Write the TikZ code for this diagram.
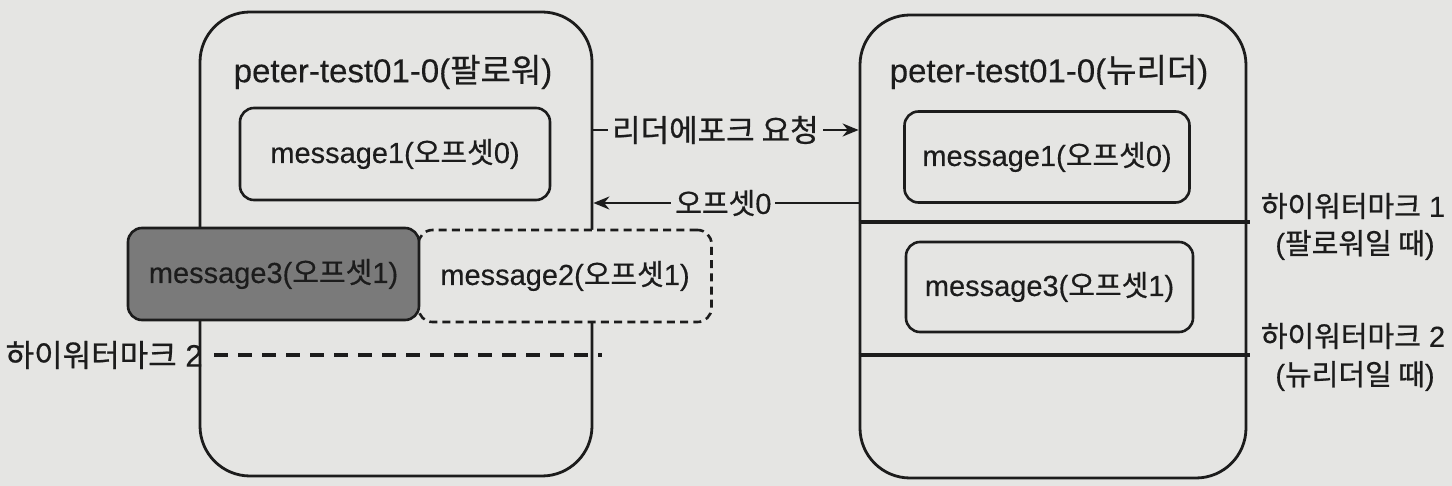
\documentclass[tikz,border=0pt]{standalone}
\usepackage{fontspec}
\setmainfont[FakeBold=0.3]{Liberation Sans}
\newfontfamily\kr[FakeBold=0.7]{Noto Sans CJK KR}
\usetikzlibrary{arrows.meta}
\newcommand{\hk}[1]{{\kr #1}}
\definecolor{paper}{RGB}{229,229,227}
\definecolor{ink}{RGB}{28,28,28}
\definecolor{shade}{RGB}{122,122,122}
\begin{document}
\begin{tikzpicture}[x=0.5pt,y=-0.5pt,
  broker/.style={draw=ink, line width=1.4pt, rounded corners=25pt, fill=paper, inner sep=0pt},
  msgbox/.style={draw=ink, line width=1.3pt, rounded corners=7pt, fill=paper, inner sep=0pt,
    font=\fontsize{14.5}{17}\selectfont, text=ink},
  ghostbox/.style={msgbox, dash pattern=on 4pt off 2.6pt},
  gonebox/.style={msgbox, fill=shade},
  title/.style={font=\fontsize{16.5}{19}\selectfont, text=ink},
  side/.style={font=\fontsize{14.5}{17}\selectfont, text=ink, inner sep=0pt},
  hwline/.style={draw=ink, line width=1.9pt},
  hwdash/.style={draw=ink, line width=1.9pt, dash pattern=on 7pt off 5pt},
  flow/.style={draw=ink, line width=1.1pt, -{Stealth[length=8pt,width=6.5pt]}},
  flowlabel/.style={fill=paper, inner sep=2pt, font=\fontsize{15.5}{18}\selectfont, text=ink}]

% page
\fill[paper] (0,0) rectangle (1452,486);
\useasboundingbox (0,0) rectangle (1452,486);

% brokers
\node[broker, minimum width=196pt, minimum height=232pt] (lbox) at (396,244) {};
\node[broker, minimum width=193pt, minimum height=231.5pt] (rbox) at (1053,246.5) {};

\node[title] (ltitle) at (393,72) {peter-test01-0(\hk{팔로워})};
\node[title] (rtitle) at (1049,72) {peter-test01-0(\hk{뉴리더})};

% follower log
\node[msgbox, minimum width=155pt, minimum height=46pt] (lm1) at (395,154) {message1(\hk{오프셋}0)};
\node[ghostbox, minimum width=146.5pt, minimum height=46pt] (lm2) at (565,276) {message2(\hk{오프셋}1)};
\node[gonebox, minimum width=145.5pt, minimum height=46pt] (lm3) at (273.5,274) {message3(\hk{오프셋}1)};

% follower high watermark
\coordinate (lhw2s) at (214,355);
\coordinate (lhw2e) at (602,355);
\draw[hwdash] (lhw2s) -- (lhw2e);
\node[side, anchor=east, font=\fontsize{15.5}{18}\selectfont] (lhw2) at (203,355) {\hk{하이워터마크} 2};

% new leader log
\node[msgbox, minimum width=142.5pt, minimum height=45.5pt] (rm1) at (1047,157) {message1(\hk{오프셋}0)};
\node[msgbox, minimum width=143.5pt, minimum height=45pt] (rm3) at (1049.5,287) {message3(\hk{오프셋}1)};

% new leader high watermarks
\coordinate (rhw1) at (1250,222);
\coordinate (rhw2) at (1250,355);
\draw[hwline] (rbox.west |- rhw1) -- (rhw1);
\draw[hwline] (rbox.west |- rhw2) -- (rhw2);
\node[side] (rhw1a) at (1353,206) {\hk{하이워터마크} 1};
\node[side] (rhw1b) at (1355,245) {(\hk{팔로워일 때})};
\node[side] (rhw2a) at (1353,336) {\hk{하이워터마크} 2};
\node[side] (rhw2b) at (1355,376) {(\hk{뉴리더일 때})};

% leader epoch exchange
\coordinate (reqy) at (0,130);
\coordinate (repy) at (0,203);
\draw[flow] (lbox.east |- reqy) -- node[flowlabel, pos=0.46] (req) {\hk{리더에포크 요청}} (rbox.west |- reqy);
\draw[flow] (rbox.west |- repy) -- node[flowlabel, pos=0.51, font=\fontsize{14.5}{17}\selectfont] (rep) {\hk{오프셋}0} (lbox.east |- repy);
\end{tikzpicture}
\end{document}
